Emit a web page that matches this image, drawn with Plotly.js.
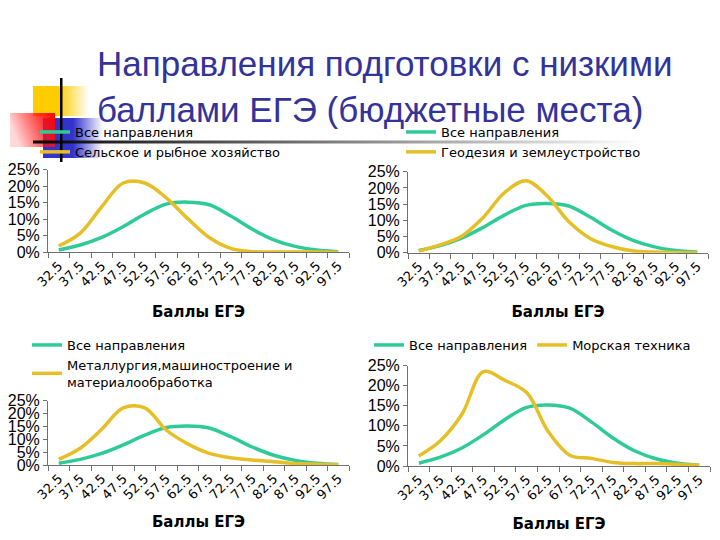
<!DOCTYPE html>
<html><head><meta charset="utf-8">
<script src="https://cdn.plot.ly/plotly-3.0.1.min.js"></script>
<style>html,body{margin:0;padding:0;background:#fff}#chart{width:720px;height:540px}</style>
</head><body><div id="chart"></div>
<script>
// ---- data ----
const categories = ['32.5','37.5','42.5','47.5','52.5','57.5','62.5','67.5','72.5','77.5','82.5','87.5','92.5','97.5'];
const allDirections = [0.7, 2.2, 4.5, 7.8, 11.6, 14.6, 15.2, 14.4, 11.0, 7.0, 3.8, 1.8, 0.7, 0.2];
const agriculture   = [1.9, 5.8, 13.8, 21.0, 21.0, 16.5, 10.2, 4.5, 1.2, 0.2, 0.1, 0.1, 0.1, 0.0];
const geodesy       = [0.5, 2.4, 5.1, 10.8, 18.5, 22.2, 17.5, 9.6, 4.4, 1.9, 0.5, 0.2, 0.1, 0.0];
const metallurgy    = [2.2, 6.5, 13.9, 22.2, 22.2, 13.6, 8.2, 4.5, 2.8, 1.9, 1.3, 0.6, 0.3, 0.1];
const marine        = [2.5, 6.3, 12.9, 23.5, 21.3, 18.3, 8.6, 2.7, 1.9, 0.9, 0.6, 0.6, 0.4, 0.2];
const allName = 'Все направления';
const groupNames = ['Сельское и рыбное хозяйство', 'Геодезия и землеустройство',
                    'Металлургия,машиностроение и<br>материалообработка', 'Морская техника'];
const groupSeries = [agriculture, geodesy, metallurgy, marine];
const titleText = 'Направления подготовки с низкими<br>баллами ЕГЭ (бюджетные места)';
const axisTitle = 'Баллы ЕГЭ';

// ---- styles ----
const GREEN = '#2ECB97', YELLOW = '#E6BF26', AXIS = '#707070';
const doms = [
  {x:[48/720, 349/720], y:[1-252.3/540, 1-169.8/540]},
  {x:[408/720, 708/720], y:[1-252.7/540, 1-171.7/540]},
  {x:[48/720, 349/720], y:[1-465/540, 1-400.7/540]},
  {x:[408/720, 710/720], y:[1-466/540, 1-365.7/540]}
];
const standoffs = [17, 17, 15, 16];
const legendPos = [
  {x:35/720, y:1-117/540, orientation:'v'},
  {x:401/720, y:1-117/540, orientation:'v'},
  {x:27/720, y:1-330/540, orientation:'v'},
  {x:369/720, y:1-330/540, orientation:'h'}
];

const traces = [];
const layout = {
  width:720, height:540, margin:{l:0,r:0,t:0,b:0,autoexpand:false},
  paper_bgcolor:'#fff', plot_bgcolor:'rgba(0,0,0,0)', showlegend:true,
  font:{family:'DejaVu Sans', color:'#000'},
  title:{text:titleText, x:97/720, xanchor:'left', xref:'paper', y:1-76/540, yref:'paper', yanchor:'top',
         font:{family:'Liberation Sans', size:35, color:'#333399'}}
};

for (let i = 0; i < 4; i++) {
  const s = i === 0 ? '' : String(i+1);
  const lg = 'legend' + s;
  traces.push({x:categories, y:allDirections, xaxis:'x'+s, yaxis:'y'+s, legend:lg, name:allName,
    type:'scatter', mode:'lines', line:{color:GREEN, width:3.5, shape:'spline', smoothing:1}});
  traces.push({x:categories, y:groupSeries[i], xaxis:'x'+s, yaxis:'y'+s, legend:lg, name:groupNames[i],
    type:'scatter', mode:'lines', line:{color:YELLOW, width:3.5, shape:'spline', smoothing:1}});
  layout['xaxis'+s] = {domain:doms[i].x, anchor:'y'+s, type:'category', range:[-0.5,13.5],
    tickmode:'linear', tick0:0, dtick:1, tickson:'boundaries', ticks:'outside', ticklen:5, tickcolor:AXIS,
    showline:true, linecolor:AXIS, linewidth:1, showgrid:false, zeroline:false, tickangle:-45,
    tickfont:{family:'DejaVu Sans', size:13, color:'#000'}, automargin:false, fixedrange:true,
    title:{text:axisTitle, standoff:standoffs[i], font:{family:'DejaVu Sans', size:15, color:'#000', weight:'bold'}}};
  layout['yaxis'+s] = {domain:doms[i].y, anchor:'x'+s, range:[0,25], tickmode:'linear', tick0:0, dtick:5,
    ticksuffix:'%', ticks:'outside', ticklen:4, tickcolor:AXIS, showline:true, linecolor:AXIS, linewidth:1,
    showgrid:false, zeroline:false, tickfont:{family:'Liberation Sans', size:16, color:'#000'},
    automargin:false, fixedrange:true};
  layout[lg] = {x:legendPos[i].x, y:legendPos[i].y, xanchor:'left', yanchor:'top', orientation:legendPos[i].orientation,
    bgcolor:'rgba(0,0,0,0)', font:{family:'DejaVu Sans', size:13, color:'#000'}, itemwidth:30, tracegroupgap:0};
}

// decorative slide logo (gradients) as an inline svg image
const svg = `<svg xmlns="http://www.w3.org/2000/svg" width="720" height="540" viewBox="0 0 720 540">
<defs>
<linearGradient id="gy" x1="0" x2="1" y1="0" y2="0"><stop offset="0" stop-color="#FFCC00"/><stop offset="0.45" stop-color="#FFCC00"/><stop offset="1" stop-color="#FFCC00" stop-opacity="0"/></linearGradient>
<linearGradient id="gr" x1="0" x2="1" y1="0.3" y2="0"><stop offset="0" stop-color="#FF0000" stop-opacity="0.15"/><stop offset="0.7" stop-color="#FF1010" stop-opacity="0.85"/><stop offset="1" stop-color="#FF0000"/></linearGradient>
<linearGradient id="gb" x1="0" x2="1" y1="0" y2="0"><stop offset="0" stop-color="#3333CC"/><stop offset="0.5" stop-color="#3333CC"/><stop offset="1" stop-color="#3333CC" stop-opacity="0"/></linearGradient>
<linearGradient id="gl" x1="0" x2="1" y1="0" y2="0"><stop offset="0" stop-color="#000"/><stop offset="0.12" stop-color="#222"/><stop offset="0.6" stop-color="#999"/><stop offset="1" stop-color="#fff"/></linearGradient>
</defs>
<rect x="33" y="86" width="56" height="30" fill="url(#gy)"/>
<rect x="43" y="118" width="60" height="40" fill="url(#gb)"/>
<rect x="10" y="113" width="45" height="34" fill="url(#gr)"/>
<rect x="33" y="140.5" width="610" height="3" fill="url(#gl)"/>
<rect x="60" y="78" width="2.5" height="84" fill="#000"/>
</svg>`;
layout.images = [{source:'data:image/svg+xml;charset=utf-8,' + encodeURIComponent(svg),
  xref:'paper', yref:'paper', x:0, y:1, sizex:1, sizey:1, xanchor:'left', yanchor:'top',
  sizing:'stretch', layer:'below'}];

Plotly.newPlot('chart', traces, layout, {staticPlot:true, displayModeBar:false});
</script>
</body></html>
